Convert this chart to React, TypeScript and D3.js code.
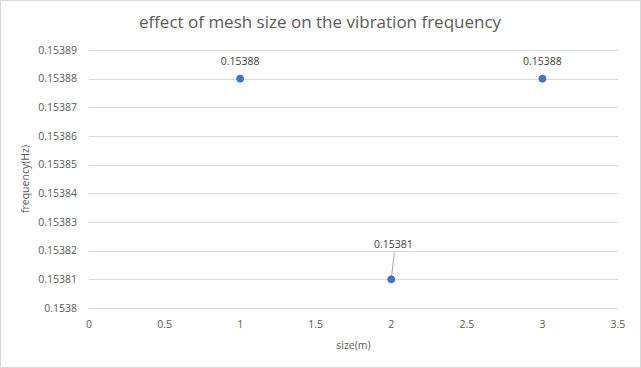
import React, { useEffect } from "react";
import * as d3 from "d3";

const sizes = [1, 2, 3];
const frequencies = [0.15388, 0.15381, 0.15388];
const xTicks = [0, 0.5, 1, 1.5, 2, 2.5, 3, 3.5];
const yTicks = [0.1538, 0.15381, 0.15382, 0.15383, 0.15384, 0.15385, 0.15386, 0.15387, 0.15388, 0.15389];
const title = "effect of mesh size on the vibration frequency";
const xTitle = "size(m)";
const yTitle = "frequency(Hz)";

const W = 641, H = 368;
const FONT = "'Open Sans', 'Noto Sans', sans-serif";

export default function App() {
  useEffect(() => {
    document.body.style.margin = "0";
  }, []);
  const x = d3.scaleLinear().domain([0, 3.5]).range([89, 618]);
  const y = d3.scaleLinear().domain([0.1538, 0.15389]).range([308, 50]);
  const fmt = (v: number) => String(+v.toFixed(5));

  return (
    <svg width={W} height={H} style={{ position: "absolute", left: 0, top: 0, fontFamily: FONT }}>
      <rect x={0.5} y={0.5} width={W - 1} height={H - 1} fill="#fff" stroke="#d9d9d9" />
      <text x={320} y={28} textAnchor="middle" fontSize={17} fill="#595959">{title}</text>
      {yTicks.map((t) => (
        <g key={t}>
          <line x1={x(0)} x2={x(3.5)} y1={Math.round(y(t)) + 0.5} y2={Math.round(y(t)) + 0.5} stroke="#d9d9d9" />
          <text x={77} y={y(t)} dy="0.35em" textAnchor="end" fontSize={10.5} fill="#595959">{fmt(t)}</text>
        </g>
      ))}
      {xTicks.map((t) => (
        <text key={t} x={x(t)} y={324} dy="0.35em" textAnchor="middle" fontSize={10.5} fill="#595959">{t}</text>
      ))}
      <text x={x(1.75)} y={345} dy="0.35em" textAnchor="middle" fontSize={10.5} fill="#595959">{xTitle}</text>
      <text transform={`translate(25,${y(0.153845)}) rotate(-90)`} dy="0.35em" textAnchor="middle" fontSize={10.5} fill="#595959">{yTitle}</text>
      {sizes.map((s, i) => {
        const px = x(s), py = y(frequencies[i]);
        const low = i === 1;
        const ly = low ? py - 35 : py - 17;
        const lx = low ? px + 2 : px;
        return (
          <g key={s}>
            {low && <line x1={px} y1={py} x2={px + 3} y2={py - 27} stroke="#a6a6a6" />}
            <circle cx={px} cy={py} r={3.5} fill="#4472c4" stroke="#4472c4" />
            <text x={lx} y={ly} dy="0.35em" textAnchor="middle" fontSize={10.5} fill="#404040">{fmt(frequencies[i])}</text>
          </g>
        );
      })}
    </svg>
  );
}
